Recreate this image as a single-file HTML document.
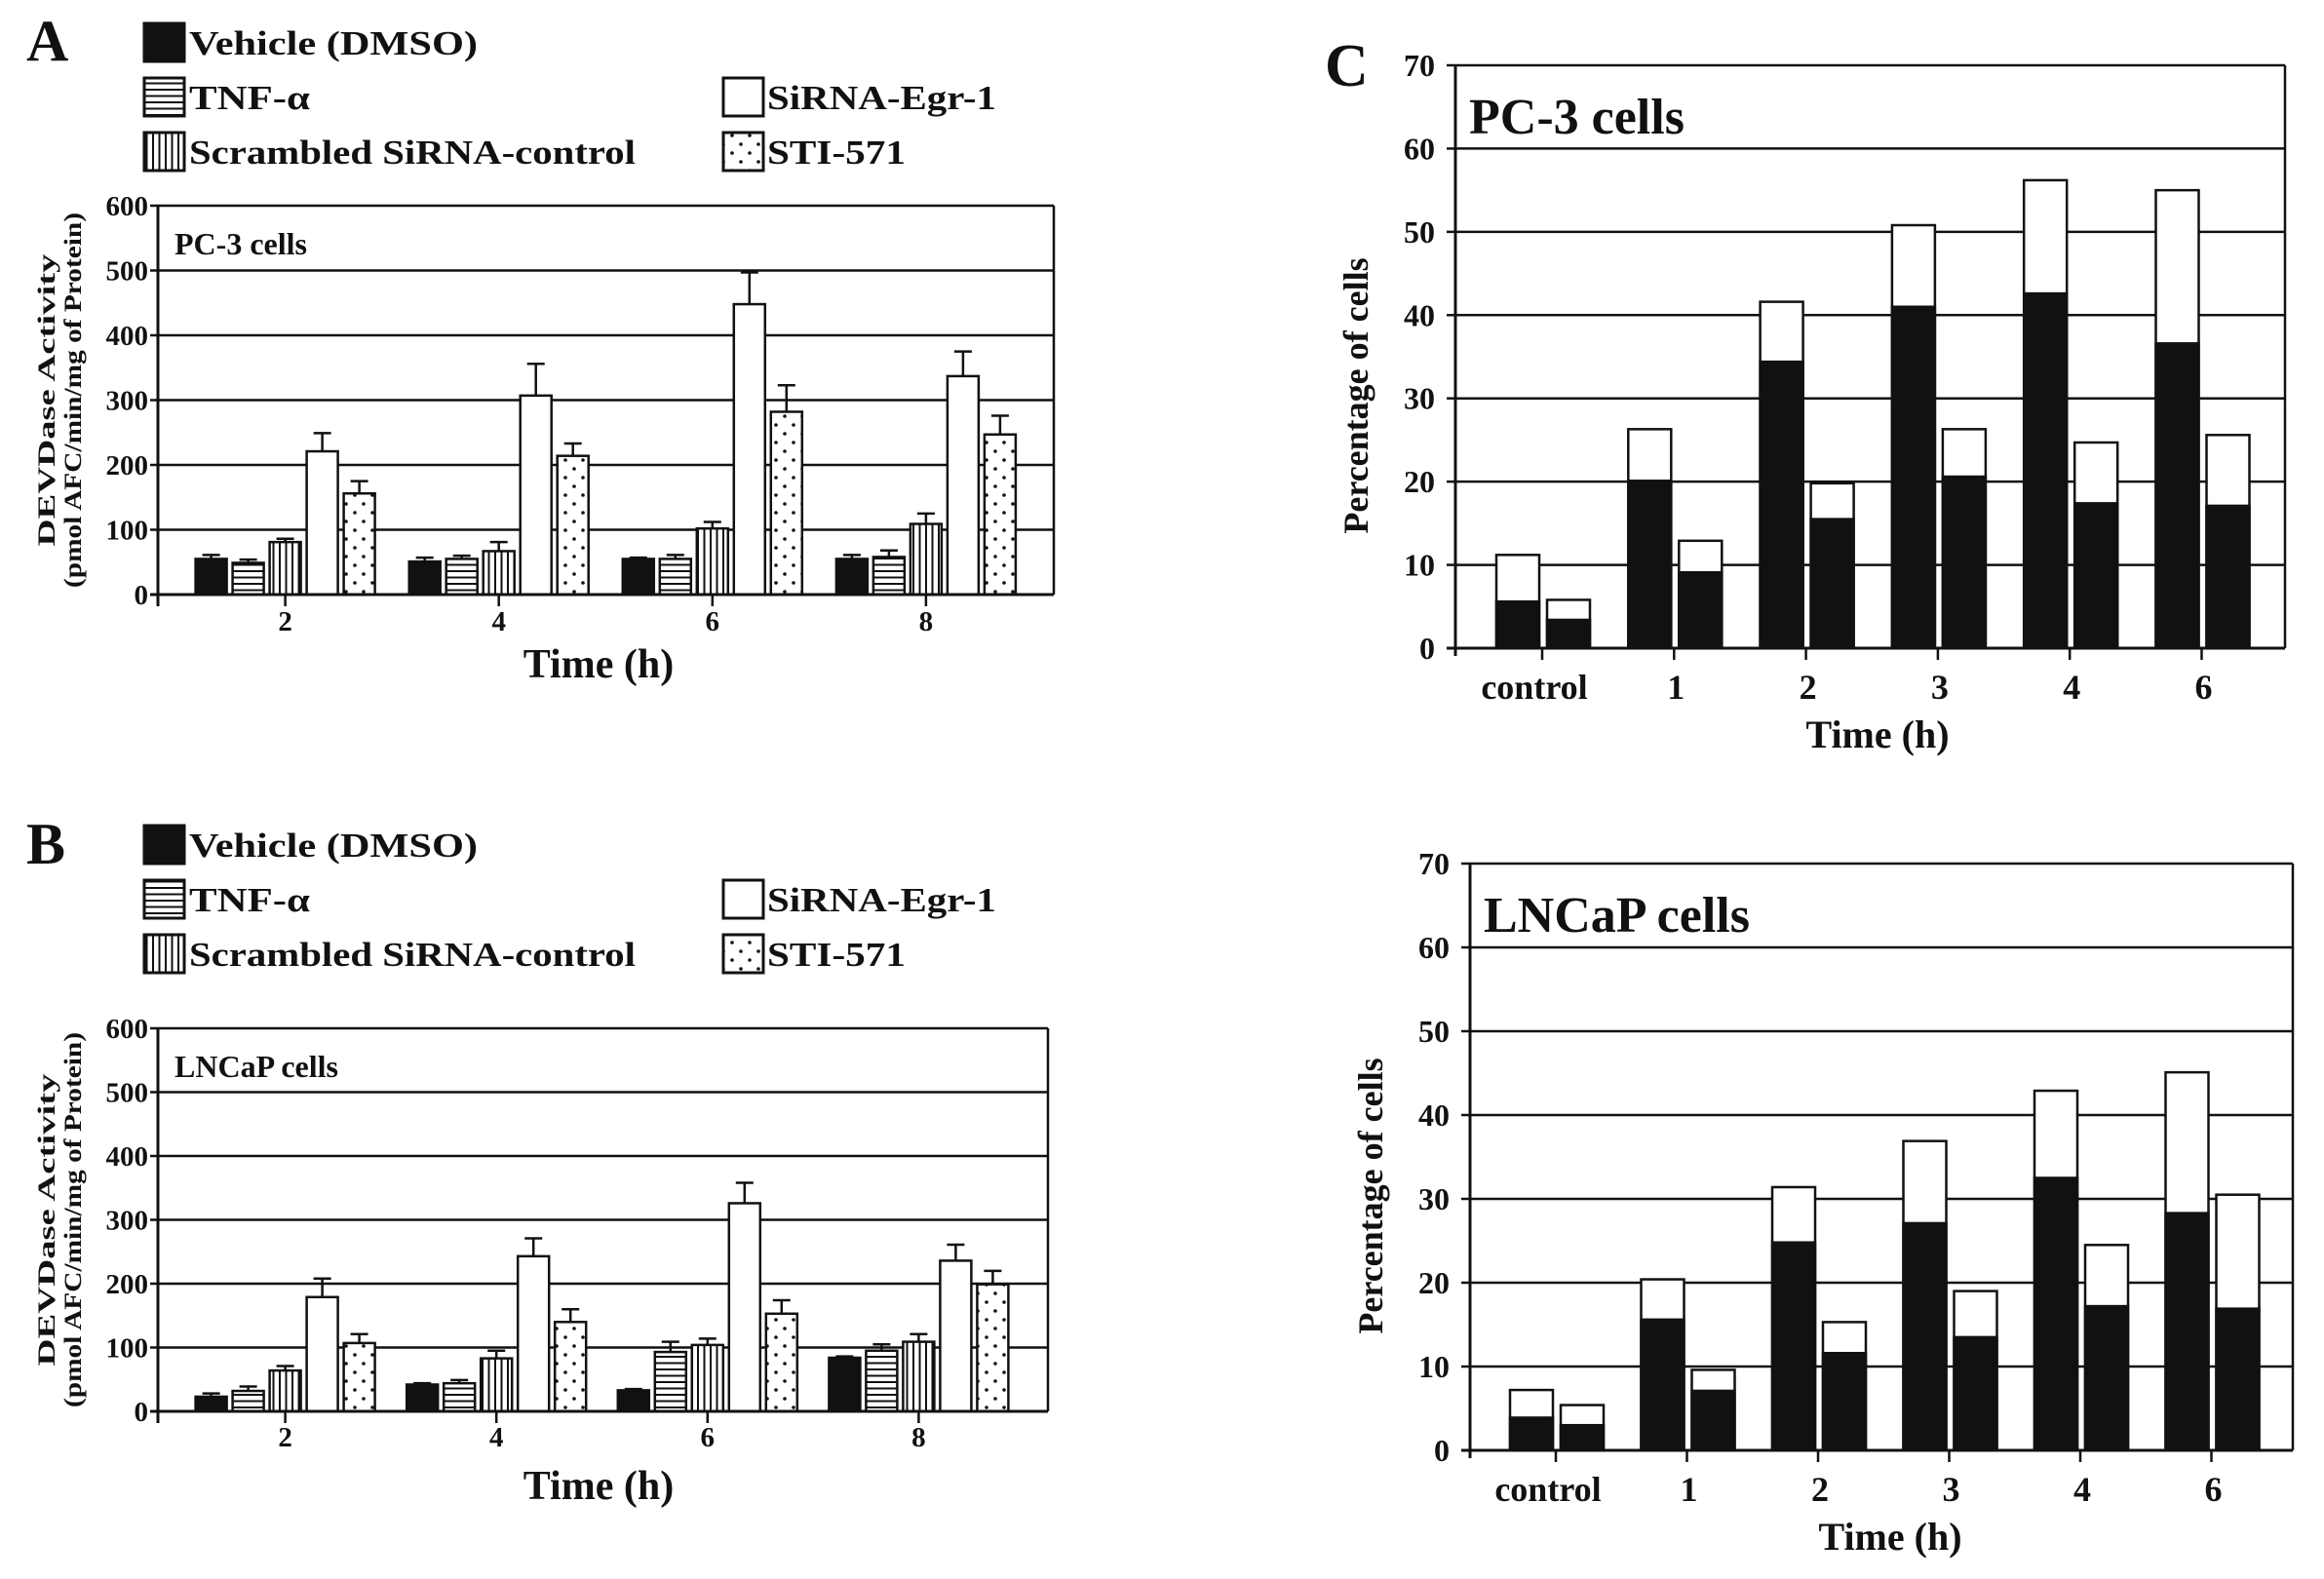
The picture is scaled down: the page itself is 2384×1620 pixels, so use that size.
<!DOCTYPE html>
<html><head><meta charset="utf-8">
<style>
html,body{margin:0;padding:0;background:#fff;}
svg{display:block;}
text{font-family:"Liberation Serif",serif;font-weight:bold;fill:#111;}
</style></head>
<body>
<svg id="fig" width="2384" height="1620" viewBox="0 0 2384 1620" xmlns="http://www.w3.org/2000/svg">
<defs>
<pattern id="hstripe" patternUnits="userSpaceOnUse" width="8" height="6.5"><rect width="8" height="6.5" fill="#fff"/><rect y="0" width="8" height="2" fill="#111"/></pattern>
<pattern id="vstripe" patternUnits="userSpaceOnUse" width="6.5" height="8"><rect width="6.5" height="8" fill="#fff"/><rect x="0" width="2" height="8" fill="#111"/></pattern>
<pattern id="dots" patternUnits="userSpaceOnUse" width="18" height="18"><rect width="18" height="18" fill="#fff"/><circle cx="4" cy="4" r="1.8" fill="#111"/><circle cx="13" cy="13" r="1.8" fill="#111"/></pattern>
</defs>
</svg>
<script>
// ---------- Data ----------
const seriesNames = ["Vehicle (DMSO)","TNF-\u03b1","Scrambled SiRNA-control","SiRNA-Egr-1","STI-571"];
const timeLabelsAB = ["2","4","6","8"];
const yTicksAB = [0,100,200,300,400,500,600];
// Panel A (PC-3), per series values for times 2,4,6,8
const aVehicle = [55,51,55,55];
const aTNF = [49,55,55,58];
const aScr = [81,67,102,109];
const aSiRNA = [221,307,448,337];
const aSTI = [156,214,282,247];
const aVehicleErr = [61,57,57,61];
const aTNFErr = [54,60,61,68];
const aScrErr = [86,81,112,125];
const aSiRNAErr = [249,356,497,375];
const aSTIErr = [175,233,323,276];
// Panel B (LNCaP)
const bVehicle = [23,42,33,84];
const bTNF = [32,44,93,95];
const bScr = [64,83,104,109];
const bSiRNA = [179,243,326,236];
const bSTI = [107,140,153,199];
const bVehicleErr = [28,44,35,86];
const bTNFErr = [39,49,109,105];
const bScrErr = [71,95,114,121];
const bSiRNAErr = [208,271,358,261];
const bSTIErr = [121,160,174,220];
// Panel C (stacked): categories
const timeLabelsC = ["control","1","2","3","4","6"];
const yTicksC = [0,10,20,30,40,50,60,70];
// PC-3
const cBar1Total = [11.2,26.3,41.6,50.8,56.2,55.0];
const cBar1Black = [5.6,20.1,34.4,41.0,42.6,36.6];
const cBar2Total = [5.8,12.9,19.8,26.3,24.7,25.6];
const cBar2Black = [3.4,9.1,15.5,20.6,17.4,17.1];
// LNCaP
const dBar1Total = [7.2,20.4,31.4,36.9,42.9,45.1];
const dBar1Black = [3.9,15.6,24.8,27.1,32.5,28.3];
const dBar2Total = [5.4,9.6,15.3,19.0,24.5,30.5];
const dBar2Black = [3.0,7.1,11.6,13.5,17.2,16.9];

// ---------- Helpers ----------
const NS="http://www.w3.org/2000/svg";
const svg=document.getElementById('fig');
function mk(tag,attrs,parent){const e=document.createElementNS(NS,tag);for(const k in attrs)e.setAttribute(k,attrs[k]);(parent||svg).appendChild(e);return e;}
function txt(s,attrs,parent){const t=mk('text',attrs,parent);t.textContent=s;return t;}
const fills=["#111","url(#hstripe)","url(#vstripe)","#fff","url(#dots)"];

function panelAB(cfg){
  const g=mk('g',{});
  
  
  const y=v=>cfg.bottom-(v/600)*(cfg.bottom-cfg.top);
  const xc=i=>cfg.tick0+i*cfg.tickStep;
  const L=txt(cfg.letter,{x:27,y:cfg.letterY,'font-size':60},g);
  
  
  const rows=[[0,0],[1,1],[2,2],[3,1],[4,2]];
  const cols=[[148,194],[148,194],[148,194],[742,787],[742,787]];
  const ends=[490,318,652,1022,929];
  rows.forEach((r,k)=>{
    const ry=cfg.legendTop+r[1]*56;
    const le=mk('g',{},g);
    
    
    mk('rect',{x:cols[k][0],y:ry,width:41,height:39,fill:fills[k],stroke:'#111','stroke-width':3},le);
    txt(seriesNames[k],{x:cols[k][1],y:ry+32,'font-size':35,textLength:ends[k]-cols[k][1],lengthAdjust:'spacingAndGlyphs'},le);
  });
  yTicksAB.forEach(t=>{
    if(t>0){const gl=mk('line',{x1:cfg.left,x2:cfg.right,y1:y(t),y2:y(t),stroke:'#111','stroke-width':2.5},g);
      }
    mk('line',{x1:cfg.left-8,x2:cfg.left,y1:y(t),y2:y(t),stroke:'#111','stroke-width':2.5},g);
    const tl=txt(String(t),{x:cfg.left-10,y:y(t)+10,'font-size':29,'text-anchor':'end'},g);
    
  });
  mk('line',{x1:cfg.right,x2:cfg.right,y1:cfg.top,y2:cfg.bottom,stroke:'#111','stroke-width':2.5},g);
  const vals=cfg.vals, errs=cfg.errs;
  for(let i=0;i<timeLabelsAB.length;i++){
    for(let k=0;k<5;k++){
      const cx=xc(i)+(k-2)*38;
      const v=vals[k][i], e=errs[k][i];
      const eg=mk('line',{x1:cx,x2:cx,y1:y(v),y2:y(e),stroke:'#111','stroke-width':2.5},g);
      
      mk('line',{x1:cx-9,x2:cx+9,y1:y(e),y2:y(e),stroke:'#111','stroke-width':2.5},g);
      const b=mk('rect',{x:cx-16,y:y(v),width:32,height:cfg.bottom-y(v),fill:fills[k],stroke:'#111','stroke-width':2.5},g);
      
      
    }
    mk('line',{x1:xc(i),x2:xc(i),y1:cfg.bottom,y2:cfg.bottom+12,stroke:'#111','stroke-width':2.5},g);
    const xl=txt(timeLabelsAB[i],{x:xc(i),y:cfg.xLabelY,'font-size':29,'text-anchor':'middle'},g);
    
  }
  mk('line',{x1:cfg.left,x2:cfg.left,y1:cfg.top,y2:cfg.bottom+12,stroke:'#111','stroke-width':3},g);
  mk('line',{x1:cfg.left-8,x2:cfg.right,y1:cfg.bottom,y2:cfg.bottom,stroke:'#111','stroke-width':3},g);
  const ct=txt(cfg.cellTitle,{x:179,y:cfg.top+50,'font-size':32},g);
  
  const tt=txt('Time (h)',{x:614,y:cfg.timeY,'font-size':42,'text-anchor':'middle'},g);
  
  const mid=(cfg.top+cfg.bottom)/2;
  const yt=txt('DEVDase Activity',{x:0,y:0,'font-size':25,'text-anchor':'middle',textLength:300,lengthAdjust:'spacingAndGlyphs',transform:`translate(56 ${mid}) rotate(-90)`},g);
  
  txt('(pmol AFC/min/mg of Protein)',{x:0,y:0,'font-size':25,'text-anchor':'middle',textLength:385,lengthAdjust:'spacingAndGlyphs',transform:`translate(83 ${mid}) rotate(-90)`},g);
}

panelAB({name:'panel-a',letter:'A',letterY:62,legendTop:24,top:211,bottom:610,left:162,right:1081,tick0:292.6,tickStep:219.1,
  xLabelY:647,timeY:695,cellTitle:'PC-3 cells',
  vals:[aVehicle,aTNF,aScr,aSiRNA,aSTI],errs:[aVehicleErr,aTNFErr,aScrErr,aSiRNAErr,aSTIErr]});
panelAB({name:'panel-b',letter:'B',letterY:886,legendTop:847,top:1055,bottom:1448,left:162,right:1075,tick0:292.6,tickStep:216.6,
  xLabelY:1484,timeY:1538,cellTitle:'LNCaP cells',
  vals:[bVehicle,bTNF,bScr,bSiRNA,bSTI],errs:[bVehicleErr,bTNFErr,bScrErr,bSiRNAErr,bSTIErr]});

function panelCD(cfg){
  const g=mk('g',{});
  
  
  const y=v=>cfg.bottom-(v/70)*(cfg.bottom-cfg.top);
  const xc=i=>cfg.ticks0+i*cfg.tickStep;
  if(cfg.letter){const L=txt(cfg.letter,{x:1359,y:88,'font-size':62},g);
    }
  yTicksC.forEach(t=>{
    if(t>0){const gl=mk('line',{x1:cfg.left,x2:cfg.right,y1:y(t),y2:y(t),stroke:'#111','stroke-width':2.5},g);
      }
    mk('line',{x1:cfg.left-9,x2:cfg.left,y1:y(t),y2:y(t),stroke:'#111','stroke-width':2.5},g);
    const tl=txt(String(t),{x:cfg.left-21,y:y(t)+11,'font-size':32,'text-anchor':'end'},g);
    
  });
  mk('line',{x1:cfg.right,x2:cfg.right,y1:cfg.top,y2:cfg.bottom,stroke:'#111','stroke-width':2.5},g);
  const sets=[[cfg.b1t,cfg.b1b,-47],[cfg.b2t,cfg.b2b,5]];
  for(let i=0;i<timeLabelsC.length;i++){
    sets.forEach((s,j)=>{
      const x0=xc(i)+s[2];
      const w=mk('rect',{x:x0,y:y(s[0][i]),width:44,height:cfg.bottom-y(s[0][i]),fill:'#fff',stroke:'#111','stroke-width':2.5},g);
      
      const b=mk('rect',{x:x0,y:y(s[1][i]),width:44,height:cfg.bottom-y(s[1][i]),fill:'#111',stroke:'#111','stroke-width':2.5},g);
      
    });
    mk('line',{x1:xc(i),x2:xc(i),y1:cfg.bottom,y2:cfg.bottom+12,stroke:'#111','stroke-width':2.5},g);
    const xl=txt(timeLabelsC[i],{x:xc(i)+(i==0?-8:2),y:cfg.bottom+52,'font-size':36,'text-anchor':'middle'},g);
    
  }
  mk('line',{x1:cfg.left,x2:cfg.left,y1:cfg.top,y2:cfg.bottom+8,stroke:'#111','stroke-width':3},g);
  mk('line',{x1:cfg.left-9,x2:cfg.right,y1:cfg.bottom,y2:cfg.bottom,stroke:'#111','stroke-width':3},g);
  const ct=txt(cfg.cellTitle,{x:cfg.left+14,y:cfg.top+70,'font-size':52},g);
  
  const tt=txt('Time (h)',{x:cfg.timeX,y:cfg.bottom+102,'font-size':40,'text-anchor':'middle'},g);
  
  const yt=txt('Percentage of cells',{x:0,y:0,'font-size':36,'text-anchor':'middle',transform:`translate(${cfg.yTitleX} ${(cfg.top+cfg.bottom)/2+40}) rotate(-90)`},g);
  
}
panelCD({name:'panel-c-pc3',letter:'C',top:67,bottom:665,left:1493,right:2344,ticks0:1582,tickStep:135.3,
  cellTitle:'PC-3 cells',timeX:1926,yTitleX:1403,b1t:cBar1Total,b1b:cBar1Black,b2t:cBar2Total,b2b:cBar2Black});
panelCD({name:'panel-c-lncap',letter:'',top:886,bottom:1488,left:1508,right:2352,ticks0:1596,tickStep:134.5,
  cellTitle:'LNCaP cells',timeX:1939,yTitleX:1418,b1t:dBar1Total,b1b:dBar1Black,b2t:dBar2Total,b2b:dBar2Black});
</script>
</body></html>
